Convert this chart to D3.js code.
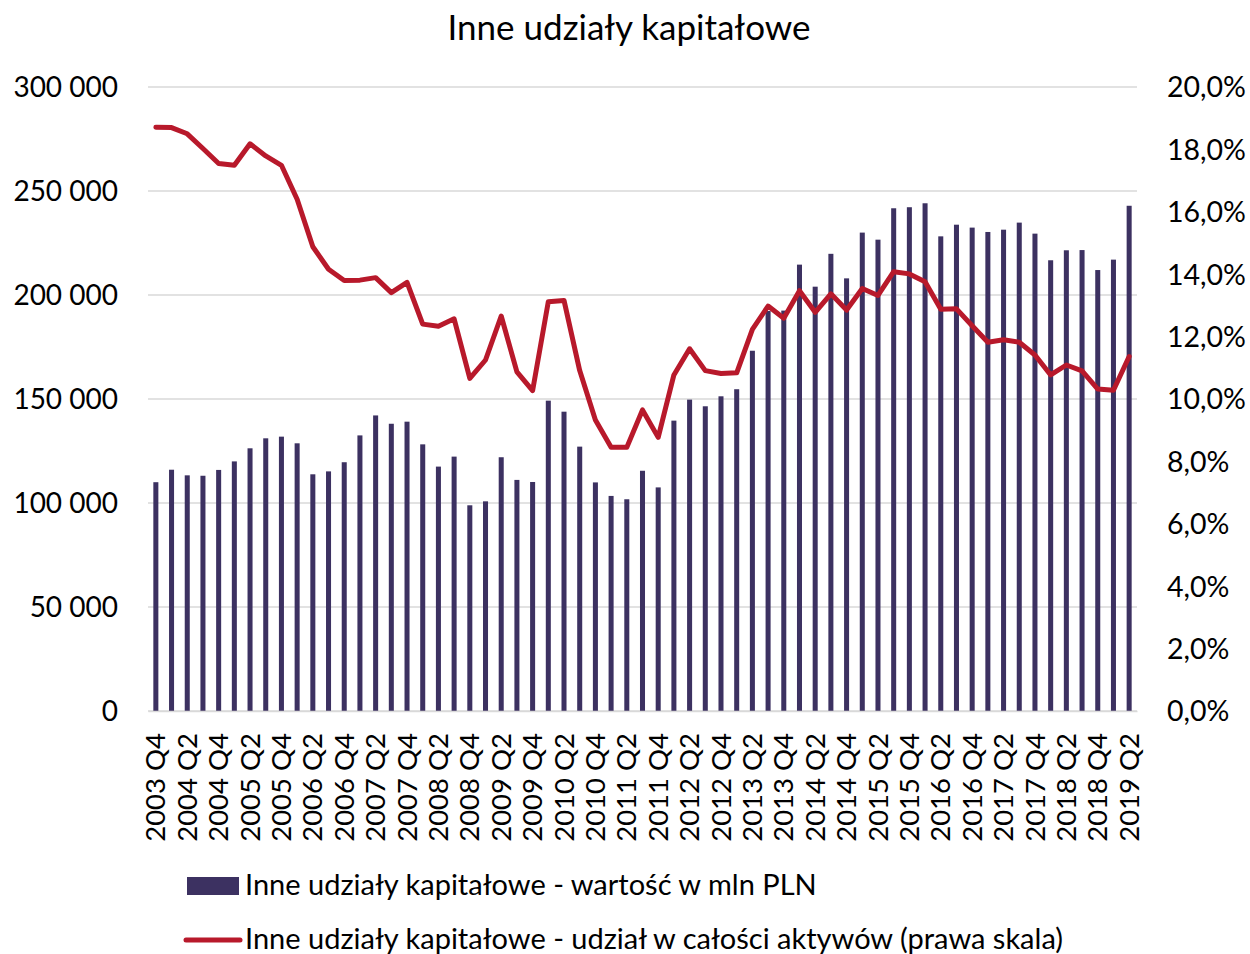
<!DOCTYPE html>
<html>
<head>
<meta charset="utf-8">
<script src="https://cdn.jsdelivr.net/npm/d3@7"></script>
<style>
  html, body { margin: 0; padding: 0; background: #fff; }
  svg { display: block; }
  text { font-family: Lato, "Open Sans", sans-serif; fill: #000; }
</style>
</head>
<body>
<svg id="chart" width="1250" height="954"></svg>
<script>
const title = "Inne udziały kapitałowe";
const categories = [
  "2003 Q4","2004 Q1","2004 Q2","2004 Q3","2004 Q4","2005 Q1","2005 Q2","2005 Q3","2005 Q4",
  "2006 Q1","2006 Q2","2006 Q3","2006 Q4","2007 Q1","2007 Q2","2007 Q3","2007 Q4",
  "2008 Q1","2008 Q2","2008 Q3","2008 Q4","2009 Q1","2009 Q2","2009 Q3","2009 Q4",
  "2010 Q1","2010 Q2","2010 Q3","2010 Q4","2011 Q1","2011 Q2","2011 Q3","2011 Q4",
  "2012 Q1","2012 Q2","2012 Q3","2012 Q4","2013 Q1","2013 Q2","2013 Q3","2013 Q4",
  "2014 Q1","2014 Q2","2014 Q3","2014 Q4","2015 Q1","2015 Q2","2015 Q3","2015 Q4",
  "2016 Q1","2016 Q2","2016 Q3","2016 Q4","2017 Q1","2017 Q2","2017 Q3","2017 Q4",
  "2018 Q1","2018 Q2","2018 Q3","2018 Q4","2019 Q1","2019 Q2"
];
const valueSeriesName = "Inne udziały kapitałowe - wartość w mln PLN";
const values = [
  110000,116000,113300,113100,115900,120000,126300,131100,131900,
  128700,113800,115200,119600,132500,142100,138100,139100,
  128200,117500,122300,98900,100800,122000,111100,110100,
  149200,143900,127100,109900,103400,101800,115500,107500,
  139600,149700,146500,151300,154700,173200,192300,192500,
  214600,204000,219800,208000,230000,226600,241700,242200,
  244100,228200,233800,232400,230300,231400,234800,229500,
  216700,221500,221600,212000,217000,242900
];
const shareSeriesName = "Inne udziały kapitałowe - udział w całości aktywów (prawa skala)";
const shares = [
  18.71,18.70,18.50,18.03,17.55,17.49,18.18,17.79,17.49,
  16.40,14.88,14.16,13.80,13.81,13.89,13.41,13.74,
  12.40,12.33,12.57,10.66,11.25,12.66,10.87,10.27,
  13.12,13.16,10.91,9.33,8.45,8.45,9.65,8.77,
  10.77,11.61,10.91,10.82,10.84,12.23,12.98,12.59,
  13.47,12.78,13.37,12.85,13.54,13.32,14.08,14.01,
  13.76,12.88,12.89,12.35,11.82,11.90,11.82,11.41,
  10.77,11.09,10.90,10.32,10.28,11.36
];
const leftTicks = [0, 50000, 100000, 150000, 200000, 250000, 300000];
const rightTicks = [0, 2, 4, 6, 8, 10, 12, 14, 16, 18, 20];

const barColor = "#3c3161";
const lineColor = "#b8192b";
const gridColor = "#d9d9d9";

const svg = d3.select("#chart");
const plot = { left: 148, right: 1137, top: 87, bottom: 711 };

const x = d3.scaleBand().domain(categories).range([plot.left, plot.right]).paddingInner(0.68).paddingOuter(0.34);
const yL = d3.scaleLinear().domain([0, 300000]).range([plot.bottom, plot.top]);
const yR = d3.scaleLinear().domain([0, 20]).range([plot.bottom, plot.top]);

const loc = d3.formatLocale({ decimal: ",", thousands: " ", grouping: [3], currency: ["", ""] });
const fmtL = loc.format(",.0f");
const fmtR = d => loc.format(".1f")(d) + "%";

// gridlines
svg.append("g").selectAll("line").data(leftTicks).join("line")
  .attr("x1", plot.left).attr("x2", plot.right)
  .attr("y1", d => yL(d)).attr("y2", d => yL(d))
  .attr("stroke", gridColor).attr("stroke-width", 1.5);

// left axis
const axL = svg.append("g").attr("transform", `translate(${plot.left},0)`)
  .call(d3.axisLeft(yL).tickValues(leftTicks).tickFormat(fmtL).tickSize(0).tickPadding(30));
axL.select(".domain").remove();
axL.selectAll("text").style("font-size", "28px").attr("dy", "0.35em");

// right axis
const axR = svg.append("g").attr("transform", `translate(${plot.right},0)`)
  .call(d3.axisRight(yR).tickValues(rightTicks).tickFormat(fmtR).tickSize(0).tickPadding(30));
axR.select(".domain").remove();
axR.selectAll("text").style("font-size", "28.5px").attr("dy", "0.35em");

// bars
svg.append("g").selectAll("rect").data(values).join("rect")
  .attr("x", (d, i) => x(categories[i]))
  .attr("width", x.bandwidth())
  .attr("y", d => yL(d))
  .attr("height", d => yL(0) - yL(d))
  .attr("fill", barColor);

// x axis
const axX = svg.append("g").attr("transform", `translate(0,${plot.bottom})`)
  .call(d3.axisBottom(x).tickValues(categories.filter((c, i) => i % 2 === 0)).tickSize(0).tickPadding(0));
axX.select(".domain").attr("stroke", gridColor).attr("stroke-width", 1.5);
axX.selectAll("text")
  .style("font-size", "27.5px")
  .attr("text-anchor", "end")
  .attr("transform", "rotate(-90)")
  .attr("x", -22).attr("y", 0).attr("dy", "0.35em");

// line
const line = d3.line()
  .x((d, i) => x(categories[i]) + x.bandwidth() / 2)
  .y(d => yR(d));
svg.append("path").datum(shares)
  .attr("d", line)
  .attr("fill", "none")
  .attr("stroke", lineColor)
  .attr("stroke-width", 5)
  .attr("stroke-linejoin", "round")
  .attr("stroke-linecap", "round");

// title
svg.append("text").attr("x", 629).attr("y", 40).attr("text-anchor", "middle")
  .style("font-size", "35px").text(title);

// legend
const lg = svg.append("g");
lg.append("rect").attr("x", 187).attr("y", 877).attr("width", 52).attr("height", 18).attr("fill", barColor);
lg.append("text").attr("x", 245).attr("y", 895).style("font-size", "29px").text(valueSeriesName);
lg.append("line").attr("x1", 186).attr("x2", 240).attr("y1", 940).attr("y2", 940)
  .attr("stroke", lineColor).attr("stroke-width", 5).attr("stroke-linecap", "round");
lg.append("text").attr("x", 245).attr("y", 949).style("font-size", "29px").text(shareSeriesName);
</script>
</body>
</html>
